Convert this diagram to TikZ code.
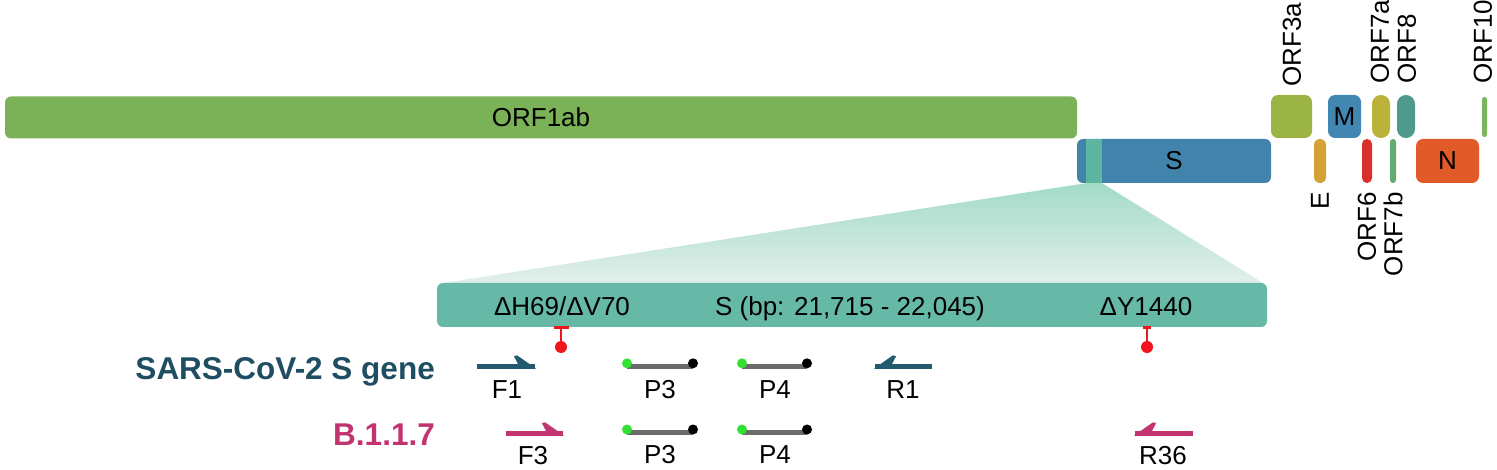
\documentclass[tikz,border=0pt]{standalone}
\usepackage{fontspec}
\setmainfont{Liberation Sans}
\usetikzlibrary{backgrounds}
\definecolor{cORFa}{HTML}{7CB257}
\definecolor{cS}{HTML}{4183AB}
\definecolor{cStripe}{HTML}{5DB6A0}
\definecolor{cBox}{HTML}{66B9A6}
\definecolor{cORFthree}{HTML}{9BB443}
\definecolor{cM}{HTML}{4287B2}
\definecolor{cORFsevena}{HTML}{BBB23A}
\definecolor{cORFeight}{HTML}{4E9A8D}
\definecolor{cORFten}{HTML}{7AB65D}
\definecolor{cE}{HTML}{D4A136}
\definecolor{cORFsix}{HTML}{D9302A}
\definecolor{cORFsevenb}{HTML}{62AD6F}
\definecolor{cN}{HTML}{E05B27}
\definecolor{cNavy}{HTML}{1F4E63}
\definecolor{cNavyArrow}{HTML}{245A6E}
\definecolor{cMag}{HTML}{C23470}
\definecolor{cTrapTop}{HTML}{A3DBC7}
\definecolor{cTrapBot}{HTML}{E2EFEA}
\definecolor{cMarker}{HTML}{F0141E}
\definecolor{cProbe}{HTML}{6B6B6B}
\definecolor{cGreenDot}{HTML}{33E033}
\newcommand\myPrimerRight[4]{%
  \fill[#4] (#1,#3-2.2) rectangle (#2,#3+2.2);
  \fill[#4] (#2+1,#3+2.2) -- (#2-18,#3-11) -- (#2-21,#3-10) -- (#2-17,#3-2.2) -- (#2-17,#3+2.2) -- cycle;}
\newcommand\myPrimerLeft[4]{%
  \fill[#4] (#1,#3-2.2) rectangle (#2,#3+2.2);
  \fill[#4] (#1-1,#3+2.2) -- (#1+18,#3-11) -- (#1+21,#3-10) -- (#1+17,#3-2.2) -- (#1+17,#3+2.2) -- cycle;}
\begin{document}
\begin{tikzpicture}[x=1pt,y=-1pt,
  gene/.style={draw=none, inner sep=0pt, rounded corners=6pt, font=\fontsize{26}{30}\selectfont},
  thinbar/.style={draw=none, inner sep=0pt, minimum height=43pt},
  lbl/.style={inner sep=0pt, font=\fontsize{26}{30}\selectfont},
  vlbl/.style={inner sep=0pt, font=\fontsize{26}{30}\selectfont, rotate=90},
  title/.style={inner sep=0pt, font=\fontsize{31.5}{36}\selectfont\bfseries, anchor=base east},
  gdot/.style={circle, fill=cGreenDot, inner sep=0pt, minimum size=10pt},
  kdot/.style={circle, fill=black, inner sep=0pt, minimum size=10pt},
  probeline/.style={draw=cProbe, line width=4.5pt},
  markerline/.style={draw=cMarker, line width=2.5pt},
  markerbar/.style={draw=cMarker, line width=3pt},
]
\useasboundingbox (0,0) rectangle (1497,470);

% genome
\node[gene, fill=cORFa, minimum width=1072pt, minimum height=42pt] (orf1ab) at (541,117.5) {ORF1ab};
\node[gene, fill=cS, minimum width=194pt, minimum height=44pt] (s) at (1174,161) {S};
\node[fill=cStripe, inner sep=0pt, minimum width=16pt, minimum height=44pt] (stripe) at (1094,161) {};
\node[gene, fill=cORFthree, rounded corners=7pt, minimum width=41pt, minimum height=43pt] (orf3a) at (1291.5,116.5) {};
\node[gene, fill=cM, rounded corners=7pt, minimum width=33pt, minimum height=43pt] (m) at (1344.5,116.5) {M};
\node[thinbar, fill=cORFsevena, rounded corners=8.9pt, minimum width=18pt] (orf7a) at (1381,116.5) {};
\node[thinbar, fill=cORFeight, rounded corners=8.9pt, minimum width=18pt] (orf8) at (1406,116.5) {};
\node[thinbar, fill=cORFten, rounded corners=2.4pt, minimum width=5pt, minimum height=40pt] (orf10) at (1484.5,117) {};
\node[thinbar, fill=cE, rounded corners=5.9pt, minimum width=12pt, minimum height=44pt] (e) at (1320,161) {};
\node[thinbar, fill=cORFsix, rounded corners=4.9pt, minimum width=10pt, minimum height=44pt] (orf6) at (1367,161) {};
\node[thinbar, fill=cORFsevenb, rounded corners=2.9pt, minimum width=6pt, minimum height=44pt] (orf7b) at (1393,161) {};
\node[gene, fill=cN, rounded corners=7pt, minimum width=63pt, minimum height=44pt] (n) at (1447.5,161) {N};

% rotated gene labels
\node[vlbl, anchor=west] (l3a) at (1292,87) {ORF3a};
\node[vlbl, anchor=west] (l7a) at (1380,84) {ORF7a};
\node[vlbl, anchor=west] (l8) at (1407,84) {ORF8};
\node[vlbl, anchor=west] (l10) at (1483,84) {ORF10};
\node[vlbl, anchor=east] (le) at (1320,192) {E};
\node[vlbl, anchor=east] (l6) at (1367,192) {ORF6};
\node[vlbl, anchor=east] (l7b) at (1393,192) {ORF7b};

% zoomed S region
\node[gene, fill=cBox, minimum width=830pt, minimum height=44pt] (sbox) at (852,305) {};
\begin{scope}[on background layer]
\shade[top color=cTrapTop, bottom color=cTrapBot]
  (stripe.south west) -- (stripe.south east) -- (1263,283) -- (443,283) -- cycle;
\end{scope}
\node[lbl, anchor=base] (d69) at (562,316) {ΔH69/ΔV70};
\node[lbl, anchor=base] (sbp) at (850,316) {S (bp: 21,715 - 22,045)};
\node[lbl, anchor=base] (dy) at (1146,316) {ΔY1440};

% mutation markers
\coordinate (m1top) at (561,328);
\coordinate (m1dot) at (561,347);
\draw[markerline] (m1top) -- (m1dot);
\draw[markerbar] (553.5,328) -- (568.5,328);
\fill[cMarker] (m1dot) circle (6);
\coordinate (m2top) at (1147,328);
\coordinate (m2dot) at (1147,347);
\draw[markerline] (m2top) -- (m2dot);
\draw[markerbar] (1143,328) -- (1151,328);
\fill[cMarker] (m2dot) circle (6);

% row titles
\node[title, text=cNavy] (sars) at (435,380) {SARS-CoV-2 S gene};
\node[title, text=cMag] (b117) at (435,445) {B.1.1.7};

% primers
\myPrimerRight{477}{535}{366.3}{cNavyArrow}
\myPrimerLeft{875}{932}{366.3}{cNavyArrow}
\myPrimerRight{506}{563}{433.3}{cMag}
\myPrimerLeft{1135}{1193}{433.3}{cMag}

% probes row 1
\node[gdot] (p3ag) at (627,363.3) {};
\node[kdot] (p3ak) at (693,363.3) {};
\node[gdot] (p4ag) at (742,363.3) {};
\node[kdot] (p4ak) at (807,363.3) {};
% probes row 2
\node[gdot] (p3bg) at (627,429.5) {};
\node[kdot] (p3bk) at (693,429.5) {};
\node[gdot] (p4bg) at (742,429.5) {};
\node[kdot] (p4bk) at (807,429.5) {};
\begin{scope}[on background layer]
\draw[probeline] ([yshift=-3pt]p3ag.center) -- ([yshift=-3pt]p3ak.center);
\draw[probeline] ([yshift=-3pt]p4ag.center) -- ([yshift=-3pt]p4ak.center);
\draw[probeline] ([yshift=-3pt]p3bg.center) -- ([yshift=-3pt]p3bk.center);
\draw[probeline] ([yshift=-3pt]p4bg.center) -- ([yshift=-3pt]p4bk.center);
\end{scope}

% labels
\node[lbl, anchor=base] (f1) at (507,399) {F1};
\node[lbl, anchor=base] (p3al) at (660,399) {P3};
\node[lbl, anchor=base] (p4al) at (775,399) {P4};
\node[lbl, anchor=base] (r1) at (903,399) {R1};
\node[lbl, anchor=base] (f3) at (533,464) {F3};
\node[lbl, anchor=base] (p3bl) at (660,463) {P3};
\node[lbl, anchor=base] (p4bl) at (775,463) {P4};
\node[lbl, anchor=base] (r36) at (1163,464) {R36};
\end{tikzpicture}
\end{document}
